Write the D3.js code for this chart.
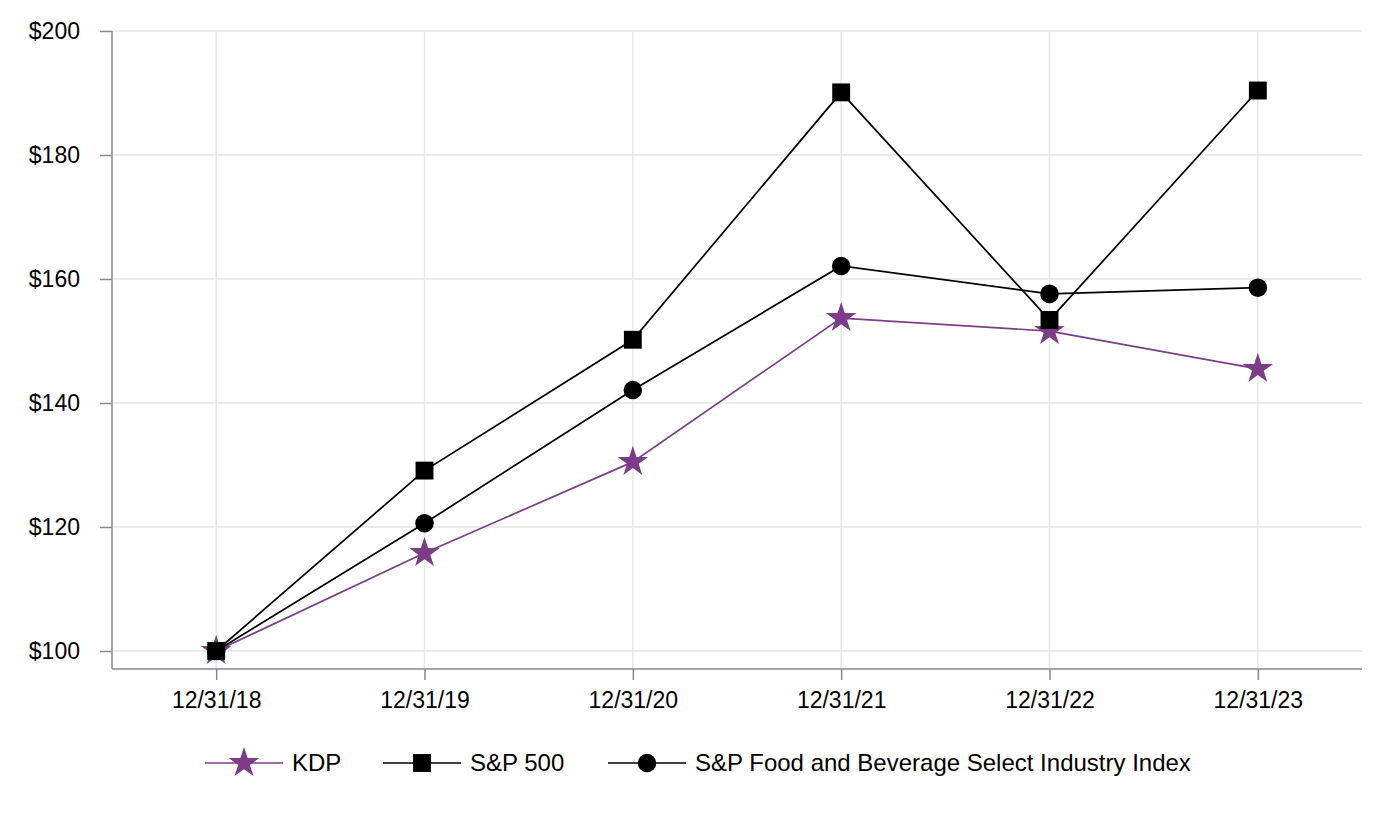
<!DOCTYPE html>
<html>
<head>
<meta charset="utf-8">
<script src="https://cdn.jsdelivr.net/npm/d3@7"></script>
<style>
  body { margin: 0; background: #fff; }
  text { font-family: "Liberation Sans", Arial, sans-serif; fill: #000; }
</style>
</head>
<body>
<script>
// data
var dates = ["12/31/18", "12/31/19", "12/31/20", "12/31/21", "12/31/22", "12/31/23"]
var kdp = [100, 115.8, 130.5, 153.7, 151.6, 145.5]
var sp500 = [100, 129.1, 150.2, 190.1, 153.4, 190.4]
var foodBev = [100, 120.6, 142.1, 162.1, 157.6, 158.6]
var yTicks = [100, 120, 140, 160, 180, 200]

var series = [
  { name: "KDP", values: kdp, color: "#7d3c88", symbol: d3.symbolStar, size: 290 },
  { name: "S&P 500", values: sp500, color: "#000", symbol: d3.symbolSquare, size: 320 },
  { name: "S&P Food and Beverage Select Industry Index", values: foodBev, color: "#000", symbol: d3.symbolCircle, size: 270 }
]

var W = 1392, H = 816
var m = { left: 112, right: 30, top: 31, bottom: 165 }

var svg = d3.select("body").append("svg")
  .attr("width", W)
  .attr("height", H)

var x = d3.scalePoint()
  .domain(dates)
  .range([m.left, W - m.right])
  .padding(0.5)

var y = d3.scaleLinear()
  .domain([100, 200])
  .range([651, m.top])

var bottomY = 669

// grid
svg.append("g").selectAll("line.h")
  .data(yTicks).enter().append("line")
  .attr("x1", m.left).attr("x2", W - m.right)
  .attr("y1", function(d) { return y(d) }).attr("y2", function(d) { return y(d) })
  .attr("stroke", "#e6e6e6").attr("stroke-width", 1.5)

svg.append("g").selectAll("line.v")
  .data(dates).enter().append("line")
  .attr("x1", function(d) { return x(d) }).attr("x2", function(d) { return x(d) })
  .attr("y1", m.top).attr("y2", bottomY)
  .attr("stroke", "#e6e6e6").attr("stroke-width", 1.5)

// axes
var yAxis = svg.append("g")
  .attr("transform", "translate(" + m.left + ",0)")
  .call(d3.axisLeft(y).tickValues(yTicks).tickSize(12).tickPadding(20)
    .tickFormat(function(d) { return "$" + d }))
yAxis.select(".domain").remove()
yAxis.append("line")
  .attr("x1", 0).attr("x2", 0).attr("y1", m.top).attr("y2", bottomY)
  .attr("stroke", "#888").attr("stroke-width", 1.5)

var xAxis = svg.append("g")
  .attr("transform", "translate(0," + bottomY + ")")
  .call(d3.axisBottom(x).tickSize(11).tickPadding(12))
xAxis.select(".domain").remove()
xAxis.append("line")
  .attr("x1", m.left).attr("x2", W - m.right)
  .attr("stroke", "#888").attr("stroke-width", 1.5)

svg.selectAll(".tick line").attr("stroke", "#888").attr("stroke-width", 1.5)
svg.selectAll(".tick text").style("font-size", "23px").attr("fill", "#000")

// lines + markers
var line = d3.line()
  .x(function(d, i) { return x(dates[i]) })
  .y(function(d) { return y(d) })

// square markers sit on top of the stars in the reference
var drawOrder = [series[0], series[2], series[1]]
drawOrder.forEach(function(s) {
  svg.append("path")
    .datum(s.values)
    .attr("d", line)
    .attr("fill", "none")
    .attr("stroke", s.color)
    .attr("stroke-width", 1.7)
})
drawOrder.forEach(function(s) {
  svg.append("g").selectAll("path")
    .data(s.values).enter().append("path")
    .attr("d", d3.symbol().type(s.symbol).size(s.size))
    .attr("transform", function(d, i) { return "translate(" + x(dates[i]) + "," + y(d) + ")" })
    .attr("fill", s.color)
})

// legend
var legendX = [205, 383, 608]
var legendY = 763
var lg = svg.append("g")
series.forEach(function(s, i) {
  var g = lg.append("g").attr("transform", "translate(" + legendX[i] + "," + legendY + ")")
  g.append("line").attr("x1", 0).attr("x2", 78)
    .attr("stroke", s.color).attr("stroke-width", 1.7)
  g.append("path")
    .attr("d", d3.symbol().type(s.symbol).size(s.size))
    .attr("transform", "translate(39,0)")
    .attr("fill", s.color)
  g.append("text")
    .attr("x", 87).attr("dy", "0.35em")
    .style("font-size", "24px")
    .text(s.name)
})
</script>
</body>
</html>
